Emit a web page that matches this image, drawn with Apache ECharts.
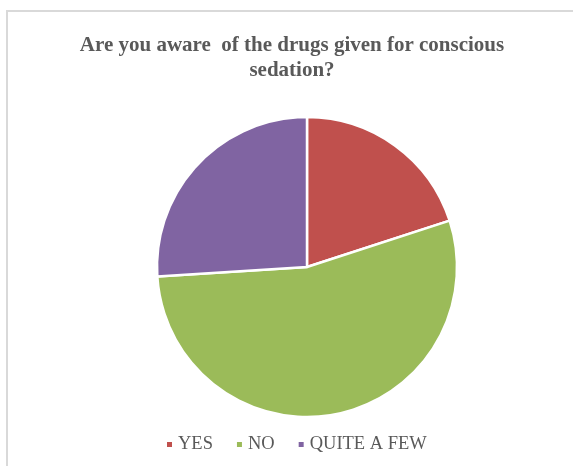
<!DOCTYPE html>
<html>
<head>
<meta charset="utf-8">
<script src="https://cdn.jsdelivr.net/npm/echarts@6/dist/echarts.min.js"></script>
<style>
  html, body { margin: 0; padding: 0; background: #ffffff; }
  #chart { width: 573px; height: 466px; }
</style>
</head>
<body>
<div id="chart"></div>
<script>
// Survey answers, in percent
const categories = ['YES', 'NO', 'QUITE A FEW'];
const shares = [20, 54, 26];
const sliceColors = ['#C0504D', '#9BBB59', '#8064A2'];

const serif = '"Liberation Serif", "Times New Roman", serif';

const chart = echarts.init(document.getElementById('chart'), null, { renderer: 'canvas' });

chart.setOption({
  animation: false,
  backgroundColor: '#ffffff',
  title: {
    text: 'Are you aware  of the drugs given for conscious\nsedation?',
    left: 287,
    top: 28,
    textAlign: 'center',
    textStyle: {
      fontFamily: serif,
      fontSize: 21,
      fontWeight: 'bold',
      color: '#595959',
      lineHeight: 25
    }
  },
  legend: {
    data: categories,
    left: 160,
    top: 430,
    icon: 'rect',
    itemWidth: 7,
    itemHeight: 7,
    itemGap: 22,
    textStyle: {
      fontFamily: serif,
      fontSize: 18.5,
      color: '#595959'
    }
  },
  graphic: [{
    type: 'rect',
    shape: { x: 7, y: 11, width: 620, height: 520 },
    style: { fill: 'none', stroke: '#d9d9d9', lineWidth: 2 },
    silent: true
  }],
  series: [{
    type: 'pie',
    center: [307, 267],
    radius: 150,
    startAngle: 90,
    clockwise: true,
    label: { show: false },
    labelLine: { show: false },
    itemStyle: { borderColor: '#ffffff', borderWidth: 2.5 },
    emphasis: { disabled: true },
    data: categories.map((name, i) => ({
      name: name,
      value: shares[i],
      itemStyle: { color: sliceColors[i] }
    }))
  }]
});
</script>
</body>
</html>
